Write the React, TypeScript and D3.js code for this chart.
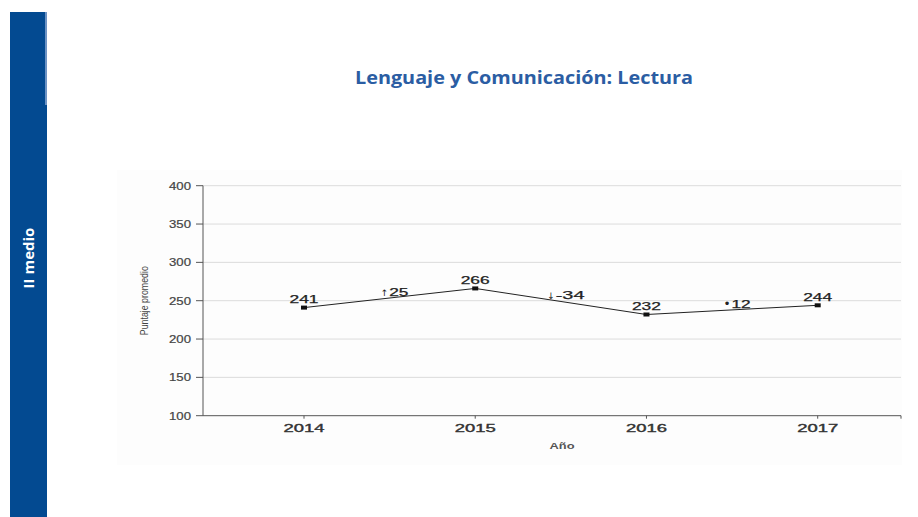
import { useRef, useEffect } from "react";
import * as d3 from "d3";

// data
const years = ["2014", "2015", "2016", "2017"];
const scores = [241, 266, 232, 244];
const changes = [25, -34, 12];
const changeMarks = ["\u2191\uFE0E", "\u2193\uFE0E", "•"];
const yTicks = [100, 150, 200, 250, 300, 350, 400];

const W = 918;
const H = 517;

function draw(el: SVGSVGElement | null) {
  if (!el) return () => {};
  const svg = d3.select(el);
  svg.selectAll("*").remove();

  // left blue strip
  svg.append("rect").attr("x", 10).attr("y", 12).attr("width", 37).attr("height", H - 12).attr("fill", "#034a91");
  svg.append("rect").attr("x", 45).attr("y", 12).attr("width", 2).attr("height", 93).attr("fill", "#6d93c4");
  svg
    .append("text")
    .attr("transform", "translate(34,258) rotate(-90)")
    .attr("text-anchor", "middle")
    .attr("font-family", "Open Sans, sans-serif")
    .attr("font-weight", "bold")
    .attr("font-size", 15)
    .attr("fill", "#fff")
    .text("II medio");

  // title
  svg
    .append("text")
    .attr("x", 524)
    .attr("y", 84)
    .attr("text-anchor", "middle")
    .attr("font-family", "Open Sans, sans-serif")
    .attr("font-weight", "bold")
    .attr("font-size", 18)
    .attr("fill", "#2b5da3")
    .attr("textLength", 338)
    .attr("lengthAdjust", "spacingAndGlyphs")
    .text("Lenguaje y Comunicación: Lectura");

  // faint panel
  svg.append("rect").attr("x", 117).attr("y", 170).attr("width", 785).attr("height", 295).attr("fill", "#fdfdfd");

  const axisLeft = 203;
  const axisRight = 901;
  const x = d3.scalePoint<string>().domain(years).range([304, 817.7]);
  const y = d3.scaleLinear().domain([100, 400]).range([415.7, 185.7]);

  const g = svg.append("g").attr("font-family", "Liberation Sans, Arial, sans-serif");

  // grid
  g.selectAll("line.grid")
    .data(yTicks.filter((t) => t > 100))
    .join("line")
    .attr("x1", axisLeft)
    .attr("x2", axisRight)
    .attr("y1", (d) => y(d))
    .attr("y2", (d) => y(d))
    .attr("stroke", "#dcdcdc")
    .attr("stroke-width", 1);

  // y axis
  g.append("line").attr("x1", axisLeft).attr("x2", axisLeft).attr("y1", y(400)).attr("y2", y(100)).attr("stroke", "#555");
  g.selectAll("line.ytick")
    .data(yTicks)
    .join("line")
    .attr("x1", axisLeft - 7)
    .attr("x2", axisLeft)
    .attr("y1", (d) => y(d))
    .attr("y2", (d) => y(d))
    .attr("stroke", "#555");
  g.selectAll("text.ylab")
    .data(yTicks)
    .join("text")
    .attr("x", 191)
    .attr("y", (d) => y(d) + 3.8)
    .attr("text-anchor", "end")
    .attr("font-size", 10.5)
    .attr("fill", "#444")
    .attr("stroke", "#444")
    .attr("stroke-width", 0.2)
    .attr("textLength", 22)
    .attr("lengthAdjust", "spacingAndGlyphs")
    .text((d) => d);

  g.append("text")
    .attr("transform", `translate(148,${y(250)}) rotate(-90)`)
    .attr("text-anchor", "middle")
    .attr("font-size", 10)
    .attr("fill", "#444")
    .attr("textLength", 69)
    .attr("lengthAdjust", "spacingAndGlyphs")
    .text("Puntaje promedio");

  // x axis
  g.append("line").attr("x1", axisLeft).attr("x2", axisRight).attr("y1", y(100)).attr("y2", y(100)).attr("stroke", "#555");
  g.selectAll("line.xtick")
    .data([...years.map((d) => x(d) as number), axisRight])
    .join("line")
    .attr("x1", (d) => d)
    .attr("x2", (d) => d)
    .attr("y1", y(100))
    .attr("y2", y(100) + 3)
    .attr("stroke", "#555");
  g.selectAll("text.xlab")
    .data(years)
    .join("text")
    .attr("x", (d) => x(d) as number)
    .attr("y", y(100) + 16)
    .attr("text-anchor", "middle")
    .attr("font-size", 10.5)
    .attr("fill", "#333")
    .attr("stroke", "#333")
    .attr("stroke-width", 0.35)
    .attr("textLength", 41)
    .attr("lengthAdjust", "spacingAndGlyphs")
    .text((d) => d);

  g.append("text")
    .attr("x", 562)
    .attr("y", 449)
    .attr("text-anchor", "middle")
    .attr("font-size", 9)
    .attr("font-weight", "bold")
    .attr("fill", "#555")
    .attr("textLength", 25)
    .attr("lengthAdjust", "spacingAndGlyphs")
    .text("Año");

  // line + markers
  const pts = years.map((yr, i) => [x(yr) as number, y(scores[i])] as [number, number]);
  g.append("path")
    .attr("d", d3.line()(pts))
    .attr("fill", "none")
    .attr("stroke", "#222")
    .attr("stroke-width", 1);
  g.selectAll("rect.pt")
    .data(pts)
    .join("rect")
    .attr("x", (d) => d[0] - 3)
    .attr("y", (d) => d[1] - 2)
    .attr("width", 6)
    .attr("height", 4)
    .attr("fill", "#111");
  g.selectAll("text.val")
    .data(scores)
    .join("text")
    .attr("x", (d, i) => pts[i][0])
    .attr("y", (d, i) => pts[i][1] - 4.5)
    .attr("text-anchor", "middle")
    .attr("font-size", 10.5)
    .attr("fill", "#222")
    .attr("stroke", "#222")
    .attr("stroke-width", 0.25)
    .attr("textLength", 29)
    .attr("lengthAdjust", "spacingAndGlyphs")
    .text((d) => d);

  // change labels between years
  changes.forEach((c, i) => {
    const mx = (pts[i][0] + pts[i + 1][0]) / 2 + 5;
    const my = (pts[i][1] + pts[i + 1][1]) / 2 - 2;
    const label = `${c}`;
    const t = g
      .append("text")
      .attr("x", mx)
      .attr("y", my)
      .attr("text-anchor", "middle")
      .attr("font-size", 10.5)
      .attr("fill", "#222");
    t.append("tspan")
      .attr("font-family", "DejaVu Sans, sans-serif")
      .attr("fill", "#222")
      .attr("font-size", i === 2 ? 12 : 9)
      .text(changeMarks[i]);
    t.append("tspan")
      .attr("dx", 1)
      .attr("stroke", "#222")
      .attr("stroke-width", 0.25)
      .attr("textLength", label.length * 9.6)
      .attr("lengthAdjust", "spacingAndGlyphs")
      .text(label);
  });

  return () => {
    svg.selectAll("*").remove();
  };
}

export default function App() {
  const ref = useRef<SVGSVGElement>(null);
  useEffect(() => {
    return draw(ref.current);
  }, []);
  return (
    <svg
      ref={ref}
      width={W}
      height={H}
      style={{ position: "absolute", left: 0, top: 0, background: "#fff" }}
    />
  );
}
